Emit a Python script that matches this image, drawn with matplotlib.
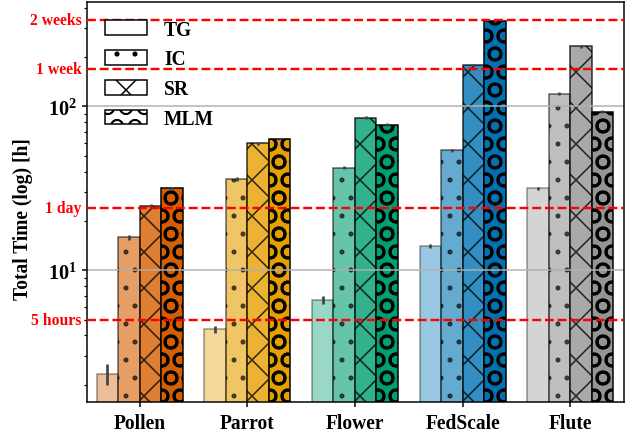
import matplotlib
matplotlib.use("Agg")
import matplotlib.pyplot as plt
import numpy as np
from matplotlib.colors import to_rgba
from matplotlib.patches import Patch
import matplotlib.transforms as mtransforms

plt.rcParams['font.family'] = ['Liberation Serif', 'DejaVu Serif']
plt.rcParams['font.weight'] = 'bold'

# Benchmarks and methods
groups = ['Pollen', 'Parrot', 'Flower', 'FedScale', 'Flute']
methods = ['TG', 'IC', 'SR', 'MLM']

# Total time in hours per benchmark
tg = [2.33, 4.35, 6.59, 14.1, 31.6]
ic = [15.9, 36.1, 42.3, 53.9, 119.0]
sr = [24.5, 59.7, 85.2, 178.6, 232.0]
mlm = [31.6, 63.1, 77.3, 331.0, 92.7]

# Spread of repeated runs (hours)
tg_err = [0.33, 0.22, 0.35, 0.45, 0.7]
ic_err = [0.6, 0.9, 1.0, 1.3, 2.5]
sr_err = [0.7, 1.3, 1.6, 3.5, 4.5]
mlm_err = [0.8, 1.2, 1.4, 6.0, 1.8]

# Reference durations (hours)
ref_values = [5, 24, 168, 336]
ref_labels = ['5 hours', '1 day', '1 week', '2 weeks']

group_colors = ['#D55E00', '#E69F00', '#009E73', '#0072B2', '#949494']
method_alpha = [0.4, 0.6, 0.8, 1.0]
method_hatch = ['', '.', 'x', 'O']
hatch_lw = [1.0, 1.0, 1.0, 1.8]

series = [tg, ic, sr, mlm]
errors = [tg_err, ic_err, sr_err, mlm_err]

fig = plt.figure(figsize=(632 / 108, 434 / 108), dpi=108)
ax = fig.add_axes([0.1377, 0.0714, 0.8496, 0.9217])

x = np.arange(len(groups))
width = 0.2
for j, (vals, errs) in enumerate(zip(series, errors)):
    face = [to_rgba(c, method_alpha[j]) for c in group_colors]
    edge = to_rgba('black', method_alpha[j])
    with plt.rc_context({'hatch.linewidth': hatch_lw[j]}):
        ax.bar(x + (j - 1.5) * width, vals, width, yerr=errs,
               color=face, edgecolor=edge, linewidth=1.0,
               hatch=method_hatch[j],
               error_kw=dict(ecolor='#444444', elinewidth=1.8, capsize=0))

ax.set_yscale('log')
ax.set_ylim(1.57, 433)
ax.set_xlim(-0.49, 4.5)

ax.yaxis.grid(True, which='major', color='#b0b0b0', linewidth=1.0)
ax.xaxis.grid(False)

trans = mtransforms.blended_transform_factory(ax.transAxes, ax.transData)
for v, lab in zip(ref_values, ref_labels):
    ax.axhline(v, color='red', linestyle='--', linewidth=1.6, zorder=4)
    ax.text(-0.01, v, lab, transform=trans, ha='right', va='center',
            color='red', fontsize=10.5, fontweight='bold')

ax.set_xticks(x)
ax.set_xticklabels(groups, fontsize=13, fontweight='bold')
ax.tick_params(axis='y', which='major', labelsize=13.5, length=3.5, width=1.0)
ax.tick_params(axis='y', which='minor', length=2.2, width=0.8)
ax.tick_params(axis='x', which='major', length=3.5, width=1.0)
ax.set_ylabel('Total Time (log) [h]', fontsize=13, fontweight='bold')
ax.yaxis.set_label_coords(-0.10, 0.46)

for s in ax.spines.values():
    s.set_linewidth(1.0)

handles = []
for j, m in enumerate(methods):
    with plt.rc_context({'hatch.linewidth': hatch_lw[j]}):
        handles.append(Patch(facecolor='white', edgecolor='black',
                             hatch=method_hatch[j], linewidth=1.0, label=m))
ax.legend(handles=handles, loc='upper left', frameon=False,
          prop={'size': 13, 'weight': 'bold'},
          handlelength=2.2, handleheight=0.77, handletextpad=0.85,
          labelspacing=0.5)

fig.savefig('out.png', dpi=108)
